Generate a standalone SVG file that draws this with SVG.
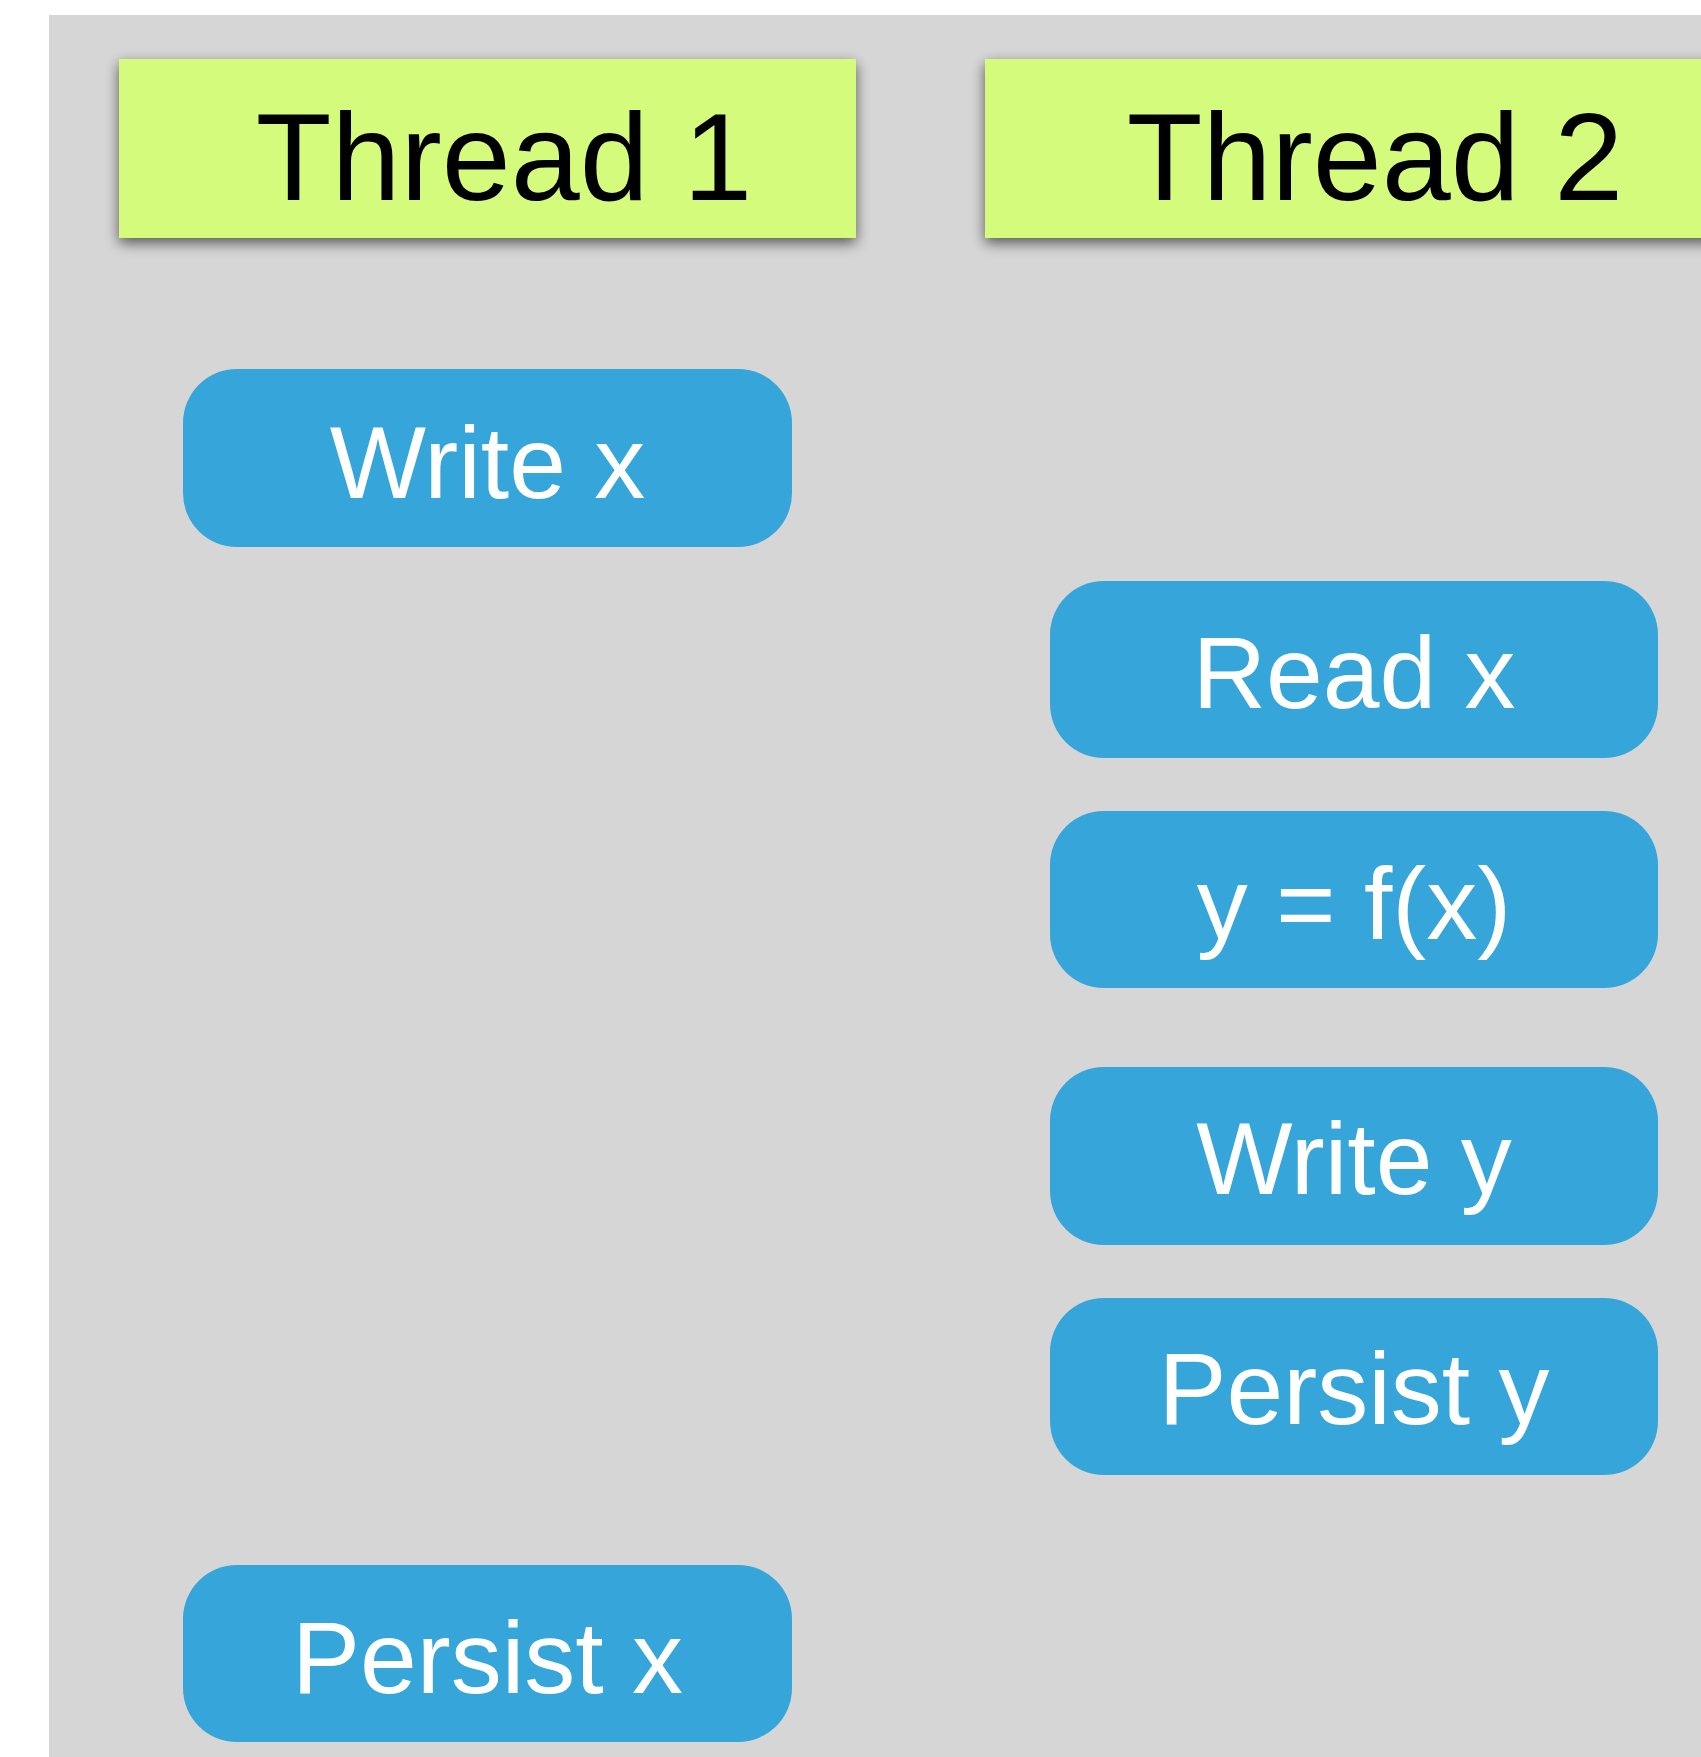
<svg xmlns="http://www.w3.org/2000/svg" width="1701" height="1757" viewBox="0 0 1701 1757">
  <style>
    .hdr { fill: #d5fb7b; }
    .hdrtxt { font-family: "Liberation Sans", Arial, sans-serif; font-size: 124px; fill: #000000; text-anchor: middle; }
    .box { fill: #35a5da; }
    .boxtxt { font-family: "Liberation Sans", Arial, sans-serif; font-size: 102px; fill: #ffffff; text-anchor: middle; }
  </style>
  <defs>
    <filter id="shadow" x="-10%" y="-20%" width="120%" height="150%">
      <feGaussianBlur in="SourceAlpha" stdDeviation="7"/>
      <feOffset dx="0" dy="5" result="b"/>
      <feComponentTransfer><feFuncA type="linear" slope="0.6"/></feComponentTransfer>
      <feMerge><feMergeNode/><feMergeNode in="SourceGraphic"/></feMerge>
    </filter>
  </defs>
  <rect x="0" y="0" width="1701" height="1757" fill="#ffffff"/>
  <rect id="background" x="49" y="15" width="1652" height="1742" fill="#d6d6d6"/>

  <g id="thread1">
    <rect class="hdr" x="119" y="59" width="737" height="179" filter="url(#shadow)"/>
    <text class="hdrtxt" x="504" y="200">Thread 1</text>
  </g>
  <g id="thread2">
    <rect class="hdr" x="985" y="59" width="730" height="179" filter="url(#shadow)"/>
    <text class="hdrtxt" x="1375" y="200">Thread 2</text>
  </g>

  <g id="write-x">
    <rect class="box" x="183" y="369" width="609" height="178" rx="54" ry="54"/>
    <text class="boxtxt" x="487.5" y="498">Write x</text>
  </g>
  <g id="read-x">
    <rect class="box" x="1050" y="581" width="608" height="177" rx="54" ry="54"/>
    <text class="boxtxt" x="1354" y="708">Read x</text>
  </g>
  <g id="y-fx">
    <rect class="box" x="1050" y="811" width="608" height="177" rx="54" ry="54"/>
    <text class="boxtxt" x="1354" y="939">y = f(x)</text>
  </g>
  <g id="write-y">
    <rect class="box" x="1050" y="1067" width="608" height="178" rx="54" ry="54"/>
    <text class="boxtxt" x="1354" y="1194">Write y</text>
  </g>
  <g id="persist-y">
    <rect class="box" x="1050" y="1298" width="608" height="177" rx="54" ry="54"/>
    <text class="boxtxt" x="1354" y="1424">Persist y</text>
  </g>
  <g id="persist-x">
    <rect class="box" x="183" y="1565" width="609" height="177" rx="54" ry="54"/>
    <text class="boxtxt" x="487.5" y="1693">Persist x</text>
  </g>

  <g id="connectors"></g>
</svg>
